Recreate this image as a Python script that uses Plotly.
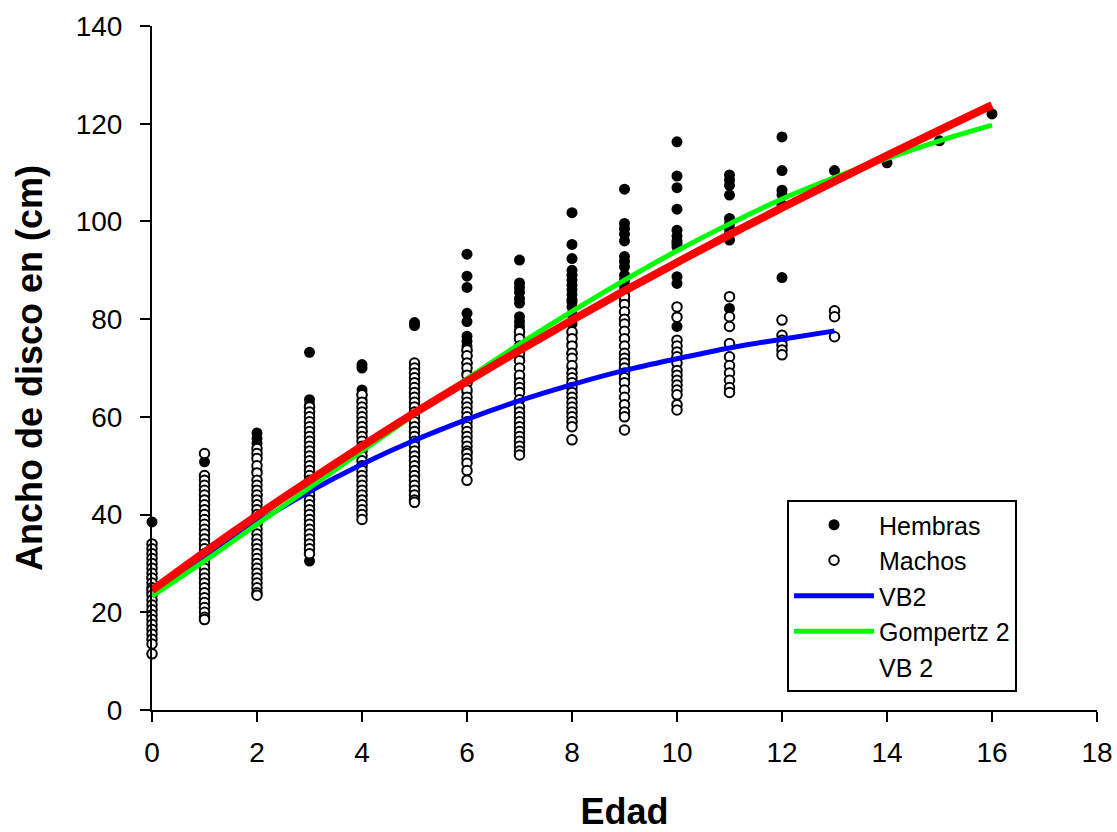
import plotly.graph_objects as go

# ---------------- data ----------------
hembras_ancho = [
    [38.5, 27, 24],
    [50.8, 47.5, 45, 43, 40, 37, 33, 30, 27],
    [56.7, 55.6, 54.6, 49, 44, 39, 34, 29],
    [73.2, 63.5, 62.5, 61.5, 55, 48, 42, 36, 30.5],
    [70.7, 70.0, 65.5, 64.5, 63.5, 57, 50, 44],
    [79.3, 78.7, 70.5, 68, 62, 55, 48],
    [93.3, 88.8, 86.5, 81.2, 79.5, 76.5, 75.5, 74.5, 73.5, 72.5, 71, 69, 67, 65, 63, 61],
    [92.1, 87.4, 86.5, 85.5, 84.2, 83.3, 80.5, 79.5, 78.5, 77.5, 76.4, 74, 72, 70, 68, 66],
    [101.8, 95.3, 92.4, 90, 89, 88, 87, 86, 85, 84, 83.5, 82.5, 81, 79, 77, 75, 73, 70],
    [106.6, 99.6, 98.5, 97.4, 96, 92.8, 91.8, 90.7, 89, 88, 87, 86, 85, 84, 83.5, 80, 76, 72, 69],
    [116.3, 109.3, 106.9, 102.5, 98.2, 97, 96, 95.5, 94.8, 88.7, 87.3, 78.5, 72],
    [109.5, 108.5, 107.4, 105.4, 100.6, 99.5, 98.5, 97.5, 96.2, 82.2],
    [117.3, 110.4, 106.4, 105.5, 103.4, 88.5],
    [110.4],
    [112.0],
    [116.5],
    [122.0],
]

machos_ancho = [
    [34, 33, 32, 31, 30, 29, 28, 27, 26, 25, 24.5, 23.5, 22.5, 21.5, 20.5, 19.5,
     18.5, 17.5, 16.5, 15.5, 14.5, 13.5, 11.5],
    [52.5, 48, 47, 46, 45, 44, 43, 42, 41, 40, 39, 38, 37, 36, 35, 34, 33, 32, 31,
     30, 29, 28, 27, 26, 25, 24, 23, 22, 21, 20, 19, 18.5],
    [53.5, 52.5, 51.5, 50, 48.5, 47, 46, 45, 44, 43, 42, 41, 40, 39, 38, 37, 36,
     35, 34, 33, 32, 31, 30, 29, 28, 27, 26, 25, 24, 23.5],
    [62, 61, 60, 59, 58, 57, 56, 55, 54, 53, 52, 51, 50, 49, 48, 47, 46, 45, 44,
     43, 42, 41, 40, 39, 38, 37, 36, 35, 34, 33, 32],
    [64.5, 63, 62, 61, 60, 59, 58, 57, 56, 55, 54, 53, 52, 51, 50, 49, 48, 47, 46,
     45, 44, 43, 42, 41, 40, 39],
    [71, 70, 69, 68, 67, 66, 65, 64, 63, 62, 61, 60, 59, 58, 57, 56, 55, 54, 53,
     52, 51, 50, 49, 48, 47, 46, 45, 44, 43, 42.5],
    [73.7, 72.5, 71, 70, 68.5, 67, 65.5, 64, 63, 62, 61, 60, 59, 58, 57, 56, 55,
     54, 53, 52.5, 51.5, 50.5, 49, 47],
    [77.4, 76, 74.5, 73, 71.5, 70, 68.5, 67, 66, 65, 63.5, 62, 61, 60, 59, 58, 57,
     56, 55, 54, 53, 52.2],
    [77.4, 76, 74.5, 73, 72, 70.5, 69, 68, 67, 66, 65, 64, 63, 62, 61, 60, 59, 58, 55.3],
    [84.6, 83, 81.5, 80, 79, 77.5, 76, 74.5, 73, 72, 71, 70, 69, 68, 67, 65.5, 64,
     62.5, 61, 60, 57.3],
    [82.5, 80.4, 75.7, 74.5, 73.3, 72.3, 71, 69.5, 68.5, 67.5, 66.5, 65.5, 64.5, 62.5, 61.4],
    [84.6, 80.5, 78.5, 75, 72.3, 70.5, 69, 67.5, 66, 65],
    [79.8, 76.7, 75.7, 74.7, 73.7, 72.7],
    [81.7, 80.5, 76.4],
]

edad_vb2 = [0, 1, 2, 3, 4, 5, 6, 7, 8, 9, 10, 11, 12, 13]
ancho_vb2 = [23.3, 31.0, 38.3, 44.7, 50.3, 55.2, 59.5, 63.3, 66.6, 69.5, 71.9, 74.1, 75.9, 77.6]

edad_gompertz2 = [0, 1, 2, 3, 4, 5, 6, 7, 8, 9, 10, 11, 12, 13, 14, 15, 16]
ancho_gompertz2 = [23.3, 30.5, 38.0, 45.5, 53.0, 60.5, 67.8, 74.9, 81.6, 88.0, 94.0,
                   99.5, 104.6, 109.0, 112.9, 116.5, 119.7]

edad_vb_2 = [0, 1, 2, 3, 4, 5, 6, 7, 8, 9, 10, 11, 12, 13, 14, 15, 16]
ancho_vb_2 = [24.5, 32.3, 39.8, 47.0, 54.0, 60.8, 67.3, 73.6, 79.8, 85.8, 91.6,
              97.3, 102.8, 108.2, 113.5, 118.7, 123.8]

x_ticks = [0, 2, 4, 6, 8, 10, 12, 14, 16, 18]
y_ticks = [0, 20, 40, 60, 80, 100, 120, 140]

# ---------------- flatten scatter data ----------------
hx, hy = [], []
for edad, vals in enumerate(hembras_ancho):
    hx += [edad] * len(vals)
    hy += vals
mx, my = [], []
for edad, vals in enumerate(machos_ancho):
    mx += [edad] * len(vals)
    my += vals

FONT = "Liberation Sans, Arial, sans-serif"

fig = go.Figure()
fig.add_trace(go.Scatter(
    x=hx, y=hy, mode="markers", name="Hembras", cliponaxis=False,
    marker=dict(symbol="circle", size=11, color="black",
                line=dict(color="black", width=0)),
))
fig.add_trace(go.Scatter(
    x=mx, y=my, mode="markers", name="Machos", cliponaxis=False,
    marker=dict(symbol="circle", size=9.5, color="white",
                line=dict(color="black", width=2)),
))
fig.add_trace(go.Scatter(
    x=edad_vb2, y=ancho_vb2, mode="lines", name="VB2", cliponaxis=False,
    line=dict(color="#0000ff", width=5, shape="spline"),
))
fig.add_trace(go.Scatter(
    x=edad_gompertz2, y=ancho_gompertz2, mode="lines", name="Gompertz 2", cliponaxis=False,
    line=dict(color="#00ff00", width=5, shape="spline"),
))
fig.add_trace(go.Scatter(
    x=edad_vb_2, y=ancho_vb_2, mode="lines", name="VB 2", cliponaxis=False,
    showlegend=False, legendgroup="vb_2",
    line=dict(color="#ff0000", width=8, shape="spline"),
))
# legend entry for "VB 2" (shown without a symbol, as in the reference)
fig.add_trace(go.Scatter(
    x=[None], y=[None], mode="lines", name="VB 2", legendgroup="vb_2",
    line=dict(color="rgba(0,0,0,0)", width=0),
))

fig.update_layout(
    width=1117, height=832,
    margin=dict(l=152, r=20, t=26, b=122, autoexpand=False),
    paper_bgcolor="white", plot_bgcolor="white",
    font=dict(family=FONT, color="black", size=26),
    showlegend=True,
    hovermode=False,
    legend=dict(
        x=0.672, y=0.307, xanchor="left", yanchor="top",
        bgcolor="white", bordercolor="black", borderwidth=2,
        font=dict(family=FONT, size=25, color="black"),
        tracegroupgap=0, itemwidth=80,
    ),
    xaxis=dict(
        range=[0, 18], tickvals=x_ticks, ticktext=[str(v) for v in x_ticks],
        showline=True, linecolor="black", linewidth=2,
        ticks="outside", ticklen=10, tickwidth=2, tickcolor="black",
        showgrid=False, zeroline=False, automargin=False,
        tickfont=dict(size=28), ticklabelstandoff=6,
        title=dict(text="<b>Edad</b>", font=dict(size=36), standoff=36),
    ),
    yaxis=dict(
        range=[0, 140], tickvals=y_ticks, ticktext=[str(v) for v in y_ticks],
        showline=True, linecolor="black", linewidth=2,
        ticks="outside", ticklen=10, tickwidth=2, tickcolor="black",
        showgrid=False, zeroline=False, automargin=False,
        tickfont=dict(size=28), ticklabelstandoff=12,
        title=dict(text="<b>Ancho de disco en (cm)</b>", font=dict(size=36), standoff=22),
    ),
)

fig.write_html("out.html")
